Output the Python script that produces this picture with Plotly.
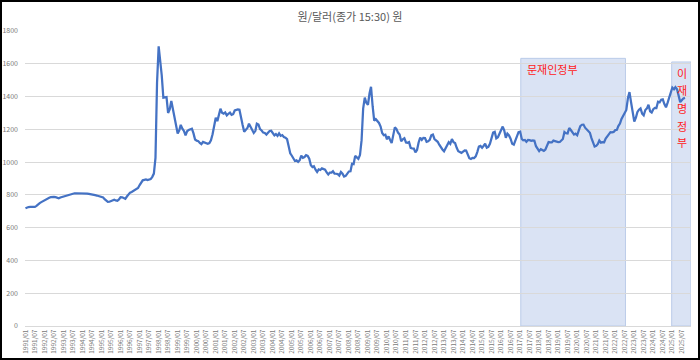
import plotly.graph_objects as go
import pandas as pd

# Monthly KRW/USD (원/달러, 종가 15:30 기준) values
start_month = "1991-01-01"
y1991 = [718, 723, 726, 727, 726, 725, 727, 733, 744, 750, 756, 762]
y1992 = [766, 770, 777, 783, 786, 788, 788, 786, 783, 779, 784, 787]
y1993 = [792, 795, 798, 800, 802, 805, 808, 810, 810, 810, 811, 809]
y1994 = [810, 810, 810, 808, 806, 805, 802, 800, 798, 796, 792, 789]
y1995 = [788, 784, 774, 763, 757, 758, 762, 770, 771, 766, 764, 772]
y1996 = [786, 785, 780, 776, 790, 806, 814, 818, 824, 830, 834, 842]
y1997 = [860, 873, 889, 892, 894, 890, 892, 896, 910, 930, 1026, 1484]
y1998 = [1706, 1625, 1530, 1393, 1394, 1397, 1300, 1322, 1373, 1322, 1280, 1236]
y1999 = [1174, 1194, 1227, 1204, 1190, 1163, 1188, 1196, 1198, 1204, 1175, 1138]
y2000 = [1131, 1128, 1117, 1110, 1123, 1118, 1116, 1112, 1116, 1133, 1170, 1212]
y2001 = [1271, 1250, 1292, 1326, 1302, 1296, 1303, 1285, 1295, 1302, 1288, 1292]
y2002 = [1315, 1319, 1322, 1320, 1263, 1226, 1186, 1199, 1208, 1234, 1212, 1200]
y2003 = [1178, 1191, 1235, 1230, 1201, 1193, 1180, 1178, 1168, 1179, 1190, 1191]
y2004 = [1176, 1163, 1171, 1160, 1175, 1160, 1165, 1153, 1149, 1140, 1097, 1054]
y2005 = [1039, 1023, 1007, 1011, 1001, 1012, 1040, 1026, 1031, 1043, 1038, 1021]
y2006 = [981, 970, 975, 954, 940, 956, 952, 962, 958, 954, 937, 925]
y2007 = [936, 936, 944, 930, 929, 927, 918, 940, 929, 912, 916, 930]
y2008 = [943, 944, 990, 988, 1038, 1029, 1020, 1043, 1134, 1327, 1394, 1362]
y2009 = [1350, 1420, 1460, 1341, 1253, 1262, 1250, 1239, 1217, 1178, 1164, 1167]
y2010 = [1139, 1157, 1137, 1116, 1163, 1212, 1203, 1180, 1169, 1127, 1139, 1146]
y2011 = [1120, 1118, 1122, 1087, 1083, 1082, 1059, 1074, 1120, 1150, 1136, 1148]
y2012 = [1147, 1124, 1127, 1136, 1163, 1168, 1141, 1131, 1124, 1106, 1087, 1077]
y2013 = [1066, 1086, 1102, 1122, 1112, 1141, 1122, 1116, 1087, 1067, 1062, 1056]
y2014 = [1064, 1071, 1070, 1045, 1024, 1019, 1026, 1025, 1035, 1061, 1095, 1099]
y2015 = [1088, 1100, 1112, 1088, 1093, 1112, 1145, 1180, 1185, 1145, 1152, 1172]
y2016 = [1203, 1217, 1194, 1148, 1174, 1163, 1143, 1112, 1107, 1131, 1162, 1183]
y2017 = [1186, 1141, 1133, 1135, 1124, 1135, 1134, 1130, 1133, 1131, 1097, 1079]
y2018 = [1067, 1079, 1072, 1069, 1077, 1097, 1123, 1121, 1120, 1131, 1128, 1122]
y2019 = [1122, 1123, 1131, 1141, 1184, 1176, 1175, 1208, 1196, 1184, 1168, 1174]
y2020 = [1164, 1194, 1220, 1228, 1229, 1210, 1199, 1187, 1179, 1146, 1117, 1095]
y2021 = [1099, 1111, 1132, 1119, 1122, 1121, 1144, 1160, 1171, 1183, 1182, 1184]
y2022 = [1195, 1197, 1220, 1235, 1264, 1284, 1307, 1318, 1391, 1427, 1364, 1296]
y2023 = [1247, 1271, 1305, 1320, 1328, 1296, 1286, 1318, 1328, 1350, 1310, 1303]
y2024 = [1323, 1331, 1330, 1368, 1365, 1381, 1383, 1354, 1334, 1361, 1394, 1435]
y2025 = [1455, 1445, 1457, 1444, 1395, 1366, 1377, 1389, 1392]

rates = (y1991 + y1992 + y1993 + y1994 + y1995 + y1996 + y1997 + y1998 + y1999 +
         y2000 + y2001 + y2002 + y2003 + y2004 + y2005 + y2006 + y2007 + y2008 +
         y2009 + y2010 + y2011 + y2012 + y2013 + y2014 + y2015 + y2016 + y2017 +
         y2018 + y2019 + y2020 + y2021 + y2022 + y2023 + y2024 + y2025)
months = pd.date_range(start_month, periods=len(rates), freq="MS")

title_text = "원/달러(종가 15:30) 원"
moon_label = "문재인정부"
lee_label = ["이", "재", "명", "정", "부"]
moon_span = ("2017-01-13", "2022-07-16", 1633)
lee_span = ("2024-12-19", "2025-12-25", 1611)

FONT = "Noto Sans CJK KR"
GREY = "#595959"
TICKGREY = "#7A7A7A"
RED = "#FF2020"

fig = go.Figure()
fig.add_trace(go.Scatter(
    x=months, y=rates, mode="lines",
    line=dict(color="#4472C4", width=2.25),
    hoverinfo="x+y", showlegend=False,
))

for x0, x1, top in (moon_span, lee_span):
    fig.add_shape(type="rect", xref="x", yref="y", x0=x0, x1=x1, y0=0, y1=top,
                  fillcolor="#D6E0F3", opacity=0.9,
                  line=dict(color="#B4C7E7", width=1), layer="below")

fig.add_annotation(x="2017-04-10", y=1568, xref="x", yref="y", text=moon_label,
                   showarrow=False, xanchor="left", yanchor="middle",
                   font=dict(family=FONT, size=11, color=RED))
for ch, yv in zip(lee_label, [1544, 1440, 1330, 1220, 1123]):
    fig.add_annotation(x="2025-07-04", y=yv, xref="x", yref="y", text=ch,
                       showarrow=False, xanchor="center", yanchor="middle",
                       font=dict(family=FONT, size=11, color=RED))

W, H = 700, 360
ML, MR, MT, MB = 25, 9, 31, 34
pw, ph = W - ML - MR, H - MT - MB
# outer frame of the picture
fig.add_shape(type="rect", xref="paper", yref="paper",
              x0=-ML / pw, x1=1 + MR / pw, y0=-MB / ph, y1=1 + MT / ph,
              line=dict(color="black", width=4), fillcolor="rgba(0,0,0,0)")

fig.update_layout(
    width=W, height=H,
    margin=dict(l=ML, r=MR, t=MT, b=MB, autoexpand=False),
    paper_bgcolor="white", plot_bgcolor="white",
    title=dict(text=title_text, x=0.5, xref="container", y=1 - 17 / H,
               yref="container", xanchor="center", yanchor="middle",
               font=dict(family=FONT, size=11, color=GREY)),
    font=dict(family=FONT, color=GREY),
)
fig.update_xaxes(
    type="date", range=["1990-12-23", "2025-12-25"],
    tick0="1991-01-01", dtick="M6", tickformat="%Y/%m", tickangle=-90,
    tickfont=dict(family=FONT, size=6.5, color=TICKGREY),
    showgrid=False, showline=True, linecolor="#D9D9D9", linewidth=1,
    ticks="", zeroline=False, automargin=False,
)
fig.update_yaxes(
    range=[0, 1800], dtick=200, showgrid=True, gridcolor="#D9D9D9", gridwidth=1,
    zeroline=False, showline=False, ticks="", ticklabelstandoff=6,
    tickfont=dict(family=FONT, size=7, color=TICKGREY), automargin=False,
)

fig.write_html(
    "out.html",
    config={"displayModeBar": False},
    post_script="document.body.style.margin='0';document.body.style.overflow='hidden';",
)
